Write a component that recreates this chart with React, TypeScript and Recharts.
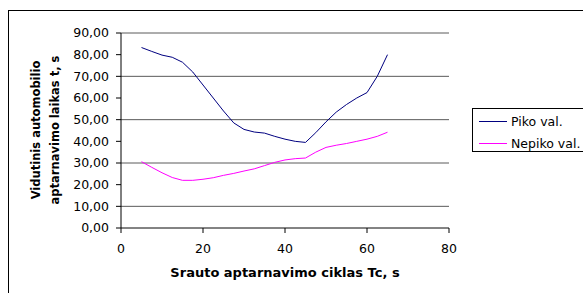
import React from 'react';
import { LineChart, Line, XAxis, YAxis, CartesianGrid } from 'recharts';

// Srauto aptarnavimo ciklas Tc, s
const cycleTimes = [5, 7.5, 10, 12.5, 15, 17.5, 20, 22.5, 25, 27.5, 30, 32.5, 35, 37.5, 40, 42.5, 45, 47.5, 50, 52.5, 55, 57.5, 60, 62.5, 65];

// Vidutinis automobilio aptarnavimo laikas, s
const pikoValues = [83.3, 81.5, 79.8, 78.8, 76.5, 72, 66, 60, 54, 48.5, 45.5, 44.3, 43.8, 42.3, 41, 40, 39.5, 44, 49, 53.5, 57, 60, 62.5, 70, 80];
const nepikoValues = [30.6, 28, 25.5, 23.3, 22, 22, 22.5, 23.2, 24.3, 25.2, 26.3, 27.3, 28.8, 30.3, 31.4, 32, 32.3, 35, 37.2, 38.2, 39, 40, 41, 42.3, 44.2];

const yTicks = [0, 10, 20, 30, 40, 50, 60, 70, 80, 90];
const xTicks = [0, 20, 40, 60, 80];

const seriesNames = ['Piko val.', 'Nepiko val.'];
const seriesColors = ['#000080', '#FF00FF'];

const chartData = cycleTimes.map((tc, i) => ({
  tc,
  piko: pikoValues[i],
  nepiko: nepikoValues[i],
}));

const font = '"DejaVu Sans", sans-serif';

const App = () => {
  return (
    <div style={{ position: 'relative', width: 583, height: 293, overflow: 'hidden', background: '#fff' }}>
      <style>{'body{margin:0}'}</style>
      {/* rėmelis */}
      <div
        style={{
          position: 'absolute',
          left: 8,
          top: 10,
          width: 700,
          height: 400,
          border: '1px solid #000',
        }}
      />
      <LineChart
        width={583}
        height={293}
        data={chartData}
        margin={{ top: 33, right: 134, bottom: 35, left: 0 }}
        style={{ position: 'absolute', left: 0, top: 0 }}
      >
        <CartesianGrid vertical={false} stroke="#5a5a5a" strokeWidth={1} />
        <XAxis
          dataKey="tc"
          type="number"
          domain={[0, 80]}
          ticks={xTicks}
          height={30}
          tickSize={5}
          tickMargin={11}
          axisLine={{ stroke: '#5a5a5a' }}
          tickLine={{ stroke: '#000' }}
          tick={{ fontSize: 12.5, fill: '#000', fontFamily: font }}
        />
        <YAxis
          type="number"
          domain={[0, 90]}
          ticks={yTicks}
          width={121}
          tickSize={5}
          tickMargin={7}
          axisLine={{ stroke: '#000' }}
          tickLine={{ stroke: '#000' }}
          tick={{ fontSize: 12.5, fill: '#000', fontFamily: font }}
          tickFormatter={(v: number) => v.toFixed(2).replace('.', ',')}
        />
        <Line
          type="linear"
          dataKey="piko"
          stroke={seriesColors[0]}
          strokeWidth={1}
          dot={false}
          isAnimationActive={false}
        />
        <Line
          type="linear"
          dataKey="nepiko"
          stroke={seriesColors[1]}
          strokeWidth={1}
          dot={false}
          isAnimationActive={false}
        />
      </LineChart>

      {/* ašių pavadinimai */}
      <svg width={583} height={293} style={{ position: 'absolute', left: 0, top: 0, pointerEvents: 'none' }}>
        <text
          x={285}
          y={277}
          textAnchor="middle"
          fontFamily={font}
          fontWeight="bold"
          fontSize={13}
          fill="#000"
        >
          Srauto aptarnavimo ciklas Tc, s
        </text>
        <g transform="translate(40,130) rotate(-90)">
          <text x={0} y={0} textAnchor="middle" fontFamily={font} fontWeight="bold" fontSize={11.5} fill="#000">
            Vidutinis automobilio
          </text>
          <text x={0} y={19} textAnchor="middle" fontFamily={font} fontWeight="bold" fontSize={11.5} fill="#000">
            aptarnavimo laikas t, s
          </text>
        </g>
      </svg>

      {/* legenda */}
      <div
        style={{
          position: 'absolute',
          left: 472,
          top: 108,
          width: 130,
          height: 44,
          border: '1px solid #000',
          fontFamily: font,
          fontSize: 12.5,
          boxSizing: 'border-box',
        }}
      >
        {seriesNames.map((name, i) => (
          <div
            key={name}
            style={{ position: 'absolute', left: 6, top: 4 + i * 22, height: 16, display: 'flex', alignItems: 'center' }}
          >
            <span style={{ display: 'inline-block', width: 28, height: 1, background: seriesColors[i], marginRight: 4 }} />
            <span>{name}</span>
          </div>
        ))}
      </div>
    </div>
  );
};

export default App;
